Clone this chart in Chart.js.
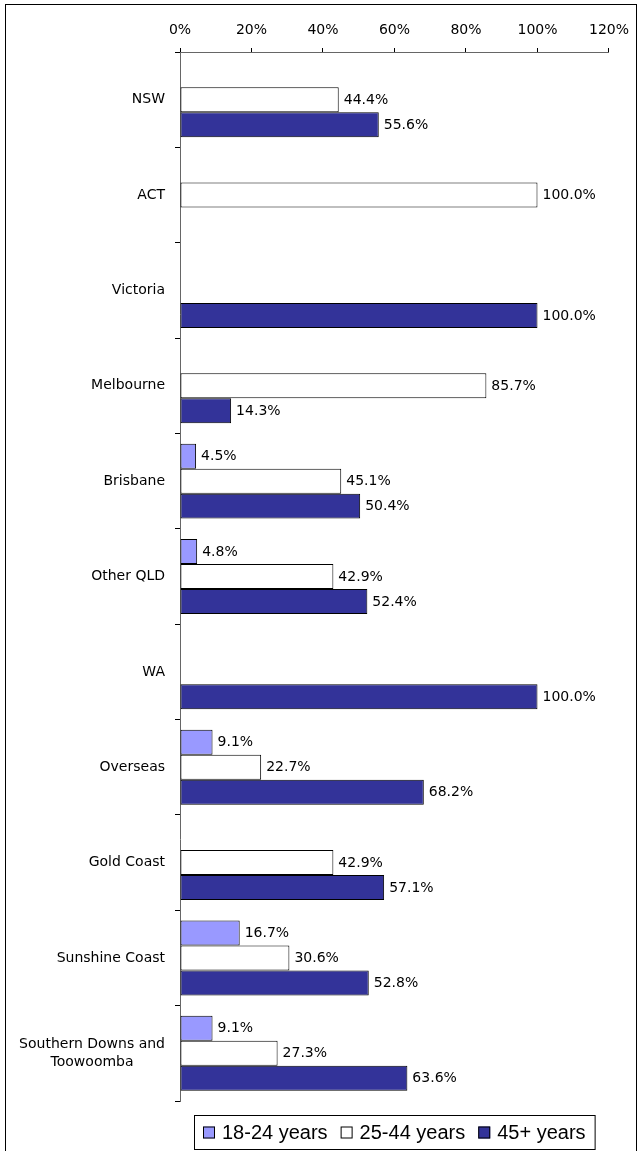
<!DOCTYPE html>
<html>
<head>
<meta charset="utf-8">
<script src="https://cdn.jsdelivr.net/npm/chart.js@4.4.1/dist/chart.umd.min.js"></script>
<style>
  html, body { margin: 0; padding: 0; background: #fff; }
  canvas { display: block; }
</style>
</head>
<body>
<canvas id="chart" width="638" height="1151"></canvas>
<script>
// Regions (multi-line entries are arrays of lines)
const categories = [
  'NSW', 'ACT', 'Victoria', 'Melbourne', 'Brisbane', 'Other QLD', 'WA',
  'Overseas', 'Gold Coast', 'Sunshine Coast', ['Southern Downs and', 'Toowoomba']
];
const seriesNames = ['18-24 years', '25-44 years', '45+ years'];
const age18to24 = [0, 0, 0, 0, 4.5, 4.8, 0, 9.1, 0, 16.7, 9.1];
const age25to44 = [44.4, 100, 0, 85.7, 45.1, 42.9, 0, 22.7, 42.9, 30.6, 27.3];
const age45plus = [55.6, 0, 100, 14.3, 50.4, 52.4, 100, 68.2, 57.1, 52.8, 63.6];
const xTickValues = [0, 20, 40, 60, 80, 100, 120];

const seriesColors = ['#9999FF', '#FFFFFF', '#333399'];
const LABEL_FONT = '14px "DejaVu Sans"';
const LEGEND_FONT = '20px "Liberation Sans"';

// White background and outer frame
const framePlugin = {
  id: 'frame',
  beforeDraw(chart) {
    const ctx = chart.ctx;
    ctx.save();
    ctx.fillStyle = '#fff';
    ctx.fillRect(0, 0, chart.width, chart.height);
    ctx.restore();
  },
  afterDraw(chart) {
    const ctx = chart.ctx;
    ctx.save();
    ctx.strokeStyle = '#000';
    ctx.lineWidth = 1;
    ctx.strokeRect(5.5, 4.5, 631, 1160);
    ctx.restore();
  }
};

// Category labels: block right-aligned to the axis, lines centred on each other
const categoryLabelPlugin = {
  id: 'categoryLabels',
  afterDraw(chart) {
    const ctx = chart.ctx;
    const yScale = chart.scales.y;
    const right = yScale.right - 15;
    const lineH = 17.5;
    ctx.save();
    ctx.font = LABEL_FONT;
    ctx.fillStyle = '#000';
    ctx.textBaseline = 'middle';
    ctx.textAlign = 'center';
    categories.forEach((lab, i) => {
      const lines = Array.isArray(lab) ? lab : [lab];
      const widest = Math.max(...lines.map(l => ctx.measureText(l).width));
      const cx = right - widest / 2;
      const cy = yScale.getPixelForValue(i);
      lines.forEach((line, j) => {
        ctx.fillText(line, cx, cy + (j - (lines.length - 1) / 2) * lineH);
      });
    });
    ctx.restore();
  }
};

// Value labels just past the end of each bar
const valueLabelPlugin = {
  id: 'valueLabels',
  afterDatasetsDraw(chart) {
    const ctx = chart.ctx;
    ctx.save();
    ctx.font = LABEL_FONT;
    ctx.fillStyle = '#000';
    ctx.textBaseline = 'middle';
    ctx.textAlign = 'left';
    chart.data.datasets.forEach((ds, di) => {
      const meta = chart.getDatasetMeta(di);
      meta.data.forEach((bar, i) => {
        const v = ds.data[i];
        if (!v) return;
        ctx.fillText(v.toFixed(1) + '%', bar.x + 5, bar.y + 0.5);
      });
    });
    ctx.restore();
  }
};

// Boxed legend under the plot, centred on the plot area
const boxedLegendPlugin = {
  id: 'boxedLegend',
  afterDraw(chart) {
    const ctx = chart.ctx;
    const area = chart.chartArea;
    const box = 12, gapText = 7, gapItem = 13, pad = 9;
    ctx.save();
    ctx.font = LEGEND_FONT;
    const widths = chart.data.datasets.map(ds => ctx.measureText(ds.label).width);
    let content = 0;
    widths.forEach((w, i) => { content += box + gapText + w + (i < widths.length - 1 ? gapItem : 0); });
    const totalW = content + pad * 2;
    const left = Math.round((area.left + area.right) / 2 - totalW / 2);
    const top = 1115;
    const h = 34;
    ctx.strokeStyle = '#000';
    ctx.lineWidth = 1;
    ctx.strokeRect(left + 0.5, top + 0.5, totalW, h);
    const cy = top + h / 2 + 0.5;
    let x = left + pad;
    chart.data.datasets.forEach((ds, i) => {
      ctx.fillStyle = ds.backgroundColor;
      ctx.fillRect(x, cy - box / 2, box, box);
      ctx.strokeStyle = '#000';
      ctx.strokeRect(x + 0.5, cy - box / 2 + 0.5, box - 1, box - 1);
      ctx.fillStyle = '#000';
      ctx.textBaseline = 'middle';
      ctx.textAlign = 'left';
      ctx.fillText(ds.label, x + box + gapText, cy + 1);
      x += box + gapText + widths[i] + gapItem;
    });
    ctx.restore();
  }
};

const seriesData = [age18to24, age25to44, age45plus];

new Chart(document.getElementById('chart'), {
  type: 'bar',
  data: {
    labels: categories,
    datasets: seriesNames.map((name, i) => ({
      label: name,
      data: seriesData[i],
      backgroundColor: seriesColors[i],
      borderColor: '#000',
      borderWidth: 1,
      borderSkipped: false,
      inflateAmount: 0,
      categoryPercentage: 0.786,
      barPercentage: 1.0
    }))
  },
  options: {
    indexAxis: 'y',
    responsive: false,
    animation: false,
    devicePixelRatio: 1,
    layout: { padding: { top: 6, left: 6, right: 29, bottom: 50 } },
    plugins: {
      legend: { display: false },
      tooltip: { enabled: false },
      title: { display: false }
    },
    scales: {
      x: {
        position: 'top',
        min: 0,
        max: 120,
        afterBuildTicks(scale) {
          scale.ticks = xTickValues.map(v => ({ value: v }));
        },
        afterFit(scale) { scale.height = 46; },
        ticks: {
          callback: v => v + '%',
          font: { family: 'DejaVu Sans', size: 14 },
          color: '#000',
          padding: 9,
          maxRotation: 0
        },
        grid: {
          drawOnChartArea: false,
          drawTicks: true,
          tickLength: 4,
          color: '#000'
        },
        border: { display: true, color: '#666', width: 1 }
      },
      y: {
        afterFit(scale) { scale.width = 174; },
        ticks: { display: false },
        grid: {
          offset: true,
          drawOnChartArea: false,
          drawTicks: true,
          tickLength: 5,
          color: '#000'
        },
        border: { display: true, color: '#666', width: 1 }
      }
    }
  },
  plugins: [framePlugin, categoryLabelPlugin, valueLabelPlugin, boxedLegendPlugin]
});
</script>
</body>
</html>
